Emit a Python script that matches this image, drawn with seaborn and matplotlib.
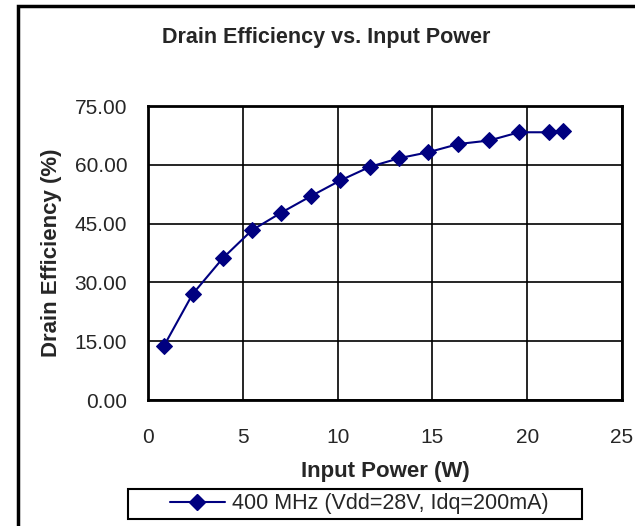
import matplotlib
matplotlib.use("Agg")
import matplotlib.pyplot as plt
import matplotlib.patches as patches
from matplotlib.ticker import FormatStrFormatter
import seaborn as sns
import pandas as pd

input_power_w = [0.83, 2.35, 3.95, 5.48, 7.03, 8.59, 10.14, 11.71,
                 13.26, 14.78, 16.37, 18.0, 19.57, 21.14, 21.87]
drain_eff_pct = [13.7, 27.0, 36.2, 43.3, 47.8, 52.0, 56.0, 59.5,
                 61.7, 63.2, 65.3, 66.2, 68.3, 68.3, 68.7]
serie = "400 MHz (Vdd=28V, Idq=200mA)"

df = pd.DataFrame({"x": input_power_w, "y": drain_eff_pct, "serie": serie})

sns.set_style("white")
plt.rcParams["font.family"] = ["Liberation Sans", "DejaVu Sans"]

W, H = 635, 526
fig = plt.figure(figsize=(W / 100, H / 100), dpi=100)
ax = fig.add_axes([148 / W, 1 - 400 / H, 474 / W, 294 / H])

sns.lineplot(data=df, x="x", y="y", hue="serie", palette=["#000080"],
             marker="D", markersize=8, markeredgecolor="#000080",
             linewidth=1.5, ax=ax, legend=False, sort=False)

ax.set_xlim(0, 25)
ax.set_ylim(0, 75)
ax.set_xticks([0, 5, 10, 15, 20, 25])
ax.set_yticks([0, 15, 30, 45, 60, 75])
ax.yaxis.set_major_formatter(FormatStrFormatter("%.2f"))
ax.grid(True, color="black", linewidth=1.2)
for s in ax.spines.values():
    s.set_color("black")
    s.set_linewidth(2)
ax.tick_params(axis="both", direction="out", length=6, width=1.5,
               color="black", labelsize=15)
ax.tick_params(axis="x", pad=14)
ax.tick_params(axis="y", pad=9)
ax.set_xlabel("Input Power (W)", fontsize=16, fontweight="bold", labelpad=10)
ax.set_ylabel("Drain Efficiency (%)", fontsize=16, fontweight="bold", labelpad=9)

fig.text(326 / W, 1 - 38 / H, "Drain Efficiency vs. Input Power",
         ha="center", va="center", fontsize=15.5, fontweight="bold")

# legenda: caixa desenhada à parte, para reproduzir as margens largas
handle = plt.Line2D([], [], color="#000080", marker="D", markersize=8,
                    linewidth=1.5, label=serie)
fig.legend(handles=[handle], loc="center", bbox_to_anchor=(359 / W, 1 - 504 / H),
           frameon=False, fontsize=15.5, handlelength=2.55, handletextpad=0.33,
           borderpad=0, borderaxespad=0)
fig.patches.append(patches.Rectangle((128 / W, 1 - 519 / H), 454 / W, 30 / H,
                                     transform=fig.transFigure, fill=False,
                                     edgecolor="black", linewidth=1.5))

fig.patches.append(patches.Rectangle((18 / W, -0.1), 1.2, 1.1 - 6 / H,
                                     transform=fig.transFigure, fill=False,
                                     edgecolor="black", linewidth=2.5))

fig.savefig("out.png", dpi=100)
